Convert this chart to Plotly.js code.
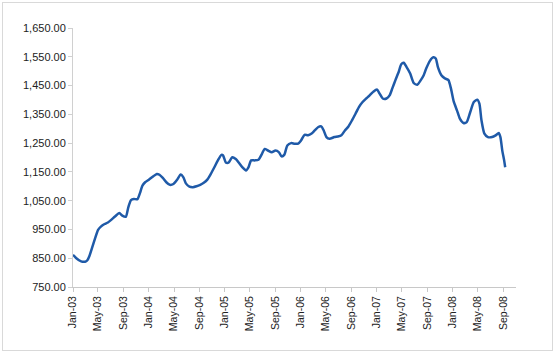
<!DOCTYPE html>
<html>
<head>
<meta charset="utf-8">
<script src="https://cdn.plot.ly/plotly-3.0.1.min.js"></script>
<style>
html,body{margin:0;padding:0;background:#fff;}
#wrap{position:relative;width:556px;height:354px;}
#chart{width:556px;height:354px;}
#frame{position:absolute;left:2px;top:2px;width:549px;height:347px;border:1px solid #d9d9d9;pointer-events:none;}
</style>
</head>
<body>
<div id="wrap"><div id="chart"></div><div id="frame"></div></div>
<script>
const dates = [
'2003-01-01','2003-01-17','2003-02-09','2003-02-28','2003-03-11','2003-03-21','2003-04-03','2003-04-16',
'2003-05-01','2003-05-15','2003-06-02','2003-06-18','2003-07-05','2003-07-22','2003-08-12','2003-08-26',
'2003-09-12','2003-09-24','2003-10-07','2003-10-21','2003-11-07','2003-11-19','2003-12-01','2003-12-14',
'2004-01-01','2004-01-21','2004-02-08','2004-02-21','2004-03-08','2004-03-25','2004-04-11','2004-04-28',
'2004-05-15','2004-06-02','2004-06-15','2004-06-27','2004-07-14','2004-07-31','2004-08-17','2004-09-04',
'2004-09-21','2004-10-08','2004-10-25','2004-11-11','2004-11-28','2004-12-15','2004-12-23','2005-01-05',
'2005-01-18','2005-02-05','2005-02-22','2005-03-09','2005-03-26','2005-04-12','2005-04-24','2005-05-07',
'2005-05-24','2005-06-11','2005-06-28','2005-07-11','2005-07-28','2005-08-14','2005-09-01','2005-09-18',
'2005-09-30','2005-10-13','2005-10-28','2005-11-15','2005-12-02','2005-12-19','2006-01-02','2006-01-19',
'2006-02-05','2006-02-22','2006-03-09','2006-03-26','2006-04-09','2006-04-21','2006-05-04','2006-05-19',
'2006-06-11','2006-06-28','2006-07-15','2006-08-01','2006-08-18','2006-09-04','2006-09-21','2006-10-08',
'2006-10-25','2006-11-11','2006-11-28','2006-12-15','2007-01-02','2007-01-15','2007-01-30','2007-02-17',
'2007-03-04','2007-03-17','2007-04-01','2007-04-17','2007-04-29','2007-05-11','2007-05-24','2007-06-11',
'2007-06-28','2007-07-15','2007-08-01','2007-08-15','2007-08-27','2007-09-13','2007-09-30','2007-10-12',
'2007-10-22','2007-11-08','2007-11-25','2007-12-12','2007-12-24','2008-01-07','2008-01-22','2008-02-05',
'2008-02-22','2008-03-09','2008-03-26','2008-04-12','2008-04-29','2008-05-09','2008-05-19','2008-06-02',
'2008-06-19','2008-07-09','2008-07-26','2008-08-10','2008-08-18','2008-08-27','2008-09-05','2008-09-10'
];
const values = [
862,850,839,838,843,858,887,916,
948,960,969,974,984,995,1007,998,
994,1027,1052,1056,1055,1076,1102,1114,
1123,1134,1143,1140,1129,1114,1105,1108,
1122,1141,1131,1110,1099,1097,1100,1105,
1112,1123,1143,1166,1190,1209,1207,1183,
1182,1201,1195,1182,1166,1155,1166,1190,
1190,1192,1213,1230,1224,1218,1224,1218,
1204,1209,1242,1250,1248,1248,1259,1279,
1277,1283,1294,1306,1308,1294,1271,1265,
1271,1273,1277,1294,1308,1329,1352,1376,
1393,1405,1416,1428,1436,1422,1405,1405,
1416,1440,1469,1498,1524,1529,1515,1492,
1459,1453,1469,1486,1509,1535,1548,1544,
1515,1486,1475,1469,1440,1393,1364,1335,
1320,1323,1358,1393,1401,1387,1329,1283,
1271,1271,1277,1285,1271,1224,1190,1166
];
const yTicks = [750,850,950,1050,1150,1250,1350,1450,1550,1650];
const yTickText = ['750.00','850.00','950.00','1,050.00','1,150.00','1,250.00','1,350.00','1,450.00','1,550.00','1,650.00'];

const trace = {
  x: dates, y: values, type: 'scatter', mode: 'lines',
  line: {color: '#1f5aa8', width: 2.5, shape: 'spline', smoothing: 0.6},
  hoverinfo: 'x+y'
};
const layout = {
  width: 556, height: 354,
  margin: {l: 73, r: 40, t: 28, b: 67, pad: 0},
  paper_bgcolor: '#fff', plot_bgcolor: '#fff',
  showlegend: false,
  font: {family: 'Liberation Sans, Arial, sans-serif', size: 11, color: '#222'},
  xaxis: {
    type: 'date', range: ['2003-01-01','2008-11-01'],
    tick0: '2003-01-01', dtick: 'M4', tickformat: '%b-%y',
    tickangle: -90, ticks: 'outside', ticklen: 4, tickcolor: '#c8c8c8',
    showline: true, linecolor: '#c8c8c8', linewidth: 1,
    showgrid: false, zeroline: false,
    tickfont: {family: 'Liberation Sans, Arial, sans-serif', size: 10.5, color: '#222'}
  },
  yaxis: {
    range: [750, 1650], tickvals: yTicks, ticktext: yTickText,
    ticks: 'outside', ticklen: 4, tickcolor: '#d0d0d0',
    showline: true, linecolor: '#d0d0d0', linewidth: 1,
    showgrid: false, zeroline: false,
    tickfont: {family: 'Liberation Sans, Arial, sans-serif', size: 11, color: '#222'}
  }
};
Plotly.newPlot('chart', [trace], layout, {displayModeBar: false, staticPlot: true});
</script>
</body>
</html>
